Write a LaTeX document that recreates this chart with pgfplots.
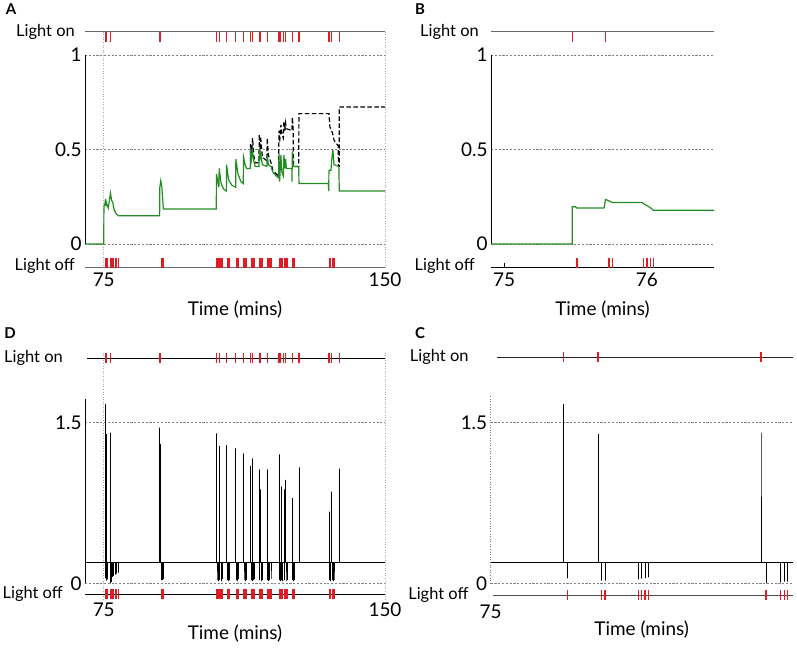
\documentclass[border=0pt]{standalone}
\usepackage{fontspec}
\setmainfont{Lato}
\usepackage{pgfplots}
\usepackage{pgfplotstable}
\pgfplotsset{compat=1.18}
\definecolor{grn}{RGB}{35,140,35}
\definecolor{rd}{RGB}{220,30,35}
\definecolor{rowgray}{RGB}{105,105,105}
\pgfplotsset{panel/.style={scale only axis, anchor=south west, clip=false,
  axis line style={draw=none}, major tick length=0pt, tick style={draw=none},
  /pgf/number format/assume math mode=true,
  tick label style={font=\fontsize{19}{22}\selectfont}},
  grd/.style={gray, line width=0.6pt, dash pattern=on 2.2pt off 1.6pt, forget plot},
  dtv/.style={gray!70, line width=0.6pt, dotted, forget plot},
  tk/.style={rd, line width=1.2pt, mark=none}}
\tikzset{lbl/.style={font=\fontsize{16.5}{19}\selectfont, anchor=east, inner sep=0pt},
  tl/.style={font=\fontsize{19}{22}\selectfont}}

% light-on events (minutes)
\pgfplotstableread{
t k
75.48 1
75.71 1
76.79 1
89.95 1
90.21 1
105.07 1
105.78 1
107.74 1
110.23 1
112.28 1
114.15 1
114.68 1
116.46 1
116.82 1
118.59 1
121.71 1
122.24 1
123.04 1
123.49 1
125.27 1
127.05 1
135.05 1
135.77 1
137.81 1
}\lon
% light-off events (minutes)
\pgfplotstableread{
t k
75.51 1
75.735 1
75.757 1
75.978 1
76.0 1
76.022 1
76.044 1
76.823 1
76.92 1
76.943 1
76.965 1
77.3 1
77.7 1
78.1 1
78.5 1
78.9 1
90.35 1
90.6 1
90.85 1
105.2 1
105.45 1
105.95 1
106.25 1
106.55 1
107.9 1
108.2 1
108.5 1
110.35 1
110.65 1
110.95 1
112.4 1
112.7 1
113.0 1
114.3 1
114.55 1
114.85 1
115.15 1
116.6 1
116.95 1
117.3 1
118.7 1
119.0 1
119.3 1
119.6 1
121.85 1
122.05 1
122.4 1
122.65 1
123.15 1
123.6 1
123.85 1
125.4 1
125.65 1
125.9 1
135.2 1
135.45 1
135.9 1
136.15 1
136.4 1
}\loff
% panel A green trace
\pgfplotstableread{
t y
70 0
75.0 0
75.05 0.20
75.3 0.21
75.48 0.24
75.6 0.20
75.71 0.22
76.2 0.19
76.79 0.27
77.1 0.23
77.4 0.22
77.8 0.18
78.3 0.16
78.9 0.15
89.9 0.15
89.95 0.30
90.21 0.335
90.5 0.30
90.9 0.185
105.0 0.185
105.07 0.37
105.7 0.30
105.78 0.40
106.3 0.32
107.0 0.29
107.7 0.28
107.74 0.42
108.3 0.34
109.2 0.31
110.2 0.30
110.23 0.45
110.8 0.37
111.6 0.33
112.2 0.32
112.28 0.46
112.7 0.42
113.1 0.40
114.1 0.40
114.15 0.50
114.4 0.45
114.68 0.49
115.0 0.44
115.4 0.41
116.4 0.41
116.46 0.50
116.7 0.46
116.82 0.48
117.3 0.42
118.5 0.41
118.59 0.47
118.9 0.42
119.6 0.41
120.1 0.38
121.0 0.36
121.65 0.35
121.71 0.48
121.9 0.33
122.24 0.47
122.5 0.38
122.9 0.36
123.04 0.47
123.3 0.40
123.49 0.45
123.7 0.40
125.2 0.40
125.22 0.33
125.27 0.49
125.5 0.41
127.0 0.41
127.05 0.32
134.9 0.32
135.0 0.28
135.05 0.39
135.6 0.39
135.77 0.44
136.1 0.50
136.4 0.42
137.7 0.41
137.81 0.28
150 0.28
}\green
% panel A black dashed trace
\pgfplotstableread{
t y
114.1 0.40
114.15 0.53
114.4 0.47
114.68 0.56
115.0 0.47
115.4 0.43
116.4 0.43
116.46 0.58
116.7 0.50
116.82 0.57
117.3 0.46
118.5 0.44
118.59 0.56
118.9 0.47
119.6 0.43
120.1 0.39
121.0 0.37
121.65 0.36
121.71 0.60
121.9 0.54
122.24 0.63
122.5 0.58
122.9 0.56
123.04 0.65
123.3 0.60
123.49 0.64
123.7 0.61
125.2 0.60
125.27 0.67
125.5 0.62
125.6 0.41
127.0 0.41
127.05 0.69
134.9 0.69
135.05 0.69
135.3 0.62
135.77 0.60
136.1 0.58
136.4 0.55
137.5 0.52
137.6 0.41
137.81 0.41
137.81 0.725
150 0.725
}\blackd
% panel B green trace
\pgfplotstableread{
t y
74.909 0
75.478 0
75.478 0.197
75.50 0.197
75.51 0.19
75.70 0.19
75.71 0.236
75.735 0.228
75.757 0.22
75.965 0.22
75.978 0.213
76.0 0.203
76.022 0.193
76.044 0.179
76.469 0.179
}\greenB
% panels D and C spike trace
\pgfplotstableread{
t y
70 0.196
75 0.196
75.48 0.196
75.48 1.674
75.48 0.196
75.51 0.196
75.51 0.047
75.51 0.196
75.71 0.196
75.71 1.394
75.71 0.196
75.735 0.196
75.735 0.025
75.735 0.196
75.757 0.196
75.757 0.025
75.757 0.196
75.978 0.196
75.978 0.037
75.978 0.196
76.0 0.196
76.0 0.045
76.0 0.196
76.022 0.196
76.022 0.05
76.022 0.196
76.044 0.196
76.044 0.055
76.044 0.196
76.79 0.196
76.79 1.407
76.79 0.196
76.823 0.196
76.823 0.0
76.823 0.196
76.92 0.196
76.92 0.01
76.92 0.196
76.943 0.196
76.943 0.015
76.943 0.196
76.965 0.196
76.965 0.015
76.965 0.196
77 0.196
77.3 0.196
77.3 0.06
77.3 0.196
77.7 0.196
77.7 0.07
77.7 0.196
78.1 0.196
78.1 0.08
78.1 0.196
78.5 0.196
78.5 0.09
78.5 0.196
78.9 0.196
78.9 0.10
78.9 0.196
89.95 0.196
89.95 1.453
89.95 0.196
90.21 0.196
90.21 1.30
90.21 0.196
90.35 0.196
90.35 0.03
90.35 0.196
90.6 0.196
90.6 0.03
90.6 0.196
90.85 0.196
90.85 0.04
90.85 0.196
105.07 0.196
105.07 1.40
105.07 0.196
105.2 0.196
105.2 0.03
105.2 0.196
105.45 0.196
105.45 0.02
105.45 0.196
105.78 0.196
105.78 1.282
105.78 0.196
105.95 0.196
105.95 0.03
105.95 0.196
106.25 0.196
106.25 0.02
106.25 0.196
106.55 0.196
106.55 0.04
106.55 0.196
107.74 0.196
107.74 1.29
107.74 0.196
107.9 0.196
107.9 0.03
107.9 0.196
108.2 0.196
108.2 0.02
108.2 0.196
108.5 0.196
108.5 0.03
108.5 0.196
110.23 0.196
110.23 1.26
110.23 0.196
110.35 0.196
110.35 0.03
110.35 0.196
110.65 0.196
110.65 0.02
110.65 0.196
110.95 0.196
110.95 0.04
110.95 0.196
112.28 0.196
112.28 1.214
112.28 0.196
112.4 0.196
112.4 0.03
112.4 0.196
112.7 0.196
112.7 0.02
112.7 0.196
113.0 0.196
113.0 0.03
113.0 0.196
114.15 0.196
114.15 1.096
114.15 0.196
114.3 0.196
114.3 0.03
114.3 0.196
114.55 0.196
114.55 0.02
114.55 0.196
114.68 0.196
114.68 1.167
114.68 0.196
114.85 0.196
114.85 0.03
114.85 0.196
115.15 0.196
115.15 0.04
115.15 0.196
116.46 0.196
116.46 1.064
116.46 0.196
116.6 0.196
116.6 0.03
116.6 0.196
116.82 0.196
116.82 0.878
116.82 0.196
116.95 0.196
116.95 0.02
116.95 0.196
117.3 0.196
117.3 0.03
117.3 0.196
118.59 0.196
118.59 1.064
118.59 0.196
118.7 0.196
118.7 0.03
118.7 0.196
119.0 0.196
119.0 0.02
119.0 0.196
119.3 0.196
119.3 0.03
119.3 0.196
119.6 0.196
119.6 0.04
119.6 0.196
121.71 0.196
121.71 1.204
121.71 0.196
121.85 0.196
121.85 0.03
121.85 0.196
122.05 0.196
122.05 0.02
122.05 0.196
122.24 0.196
122.24 0.903
122.24 0.196
122.4 0.196
122.4 0.03
122.4 0.196
122.65 0.196
122.65 0.02
122.65 0.196
123.04 0.196
123.04 0.878
123.04 0.196
123.15 0.196
123.15 0.03
123.15 0.196
123.49 0.196
123.49 0.965
123.49 0.196
123.6 0.196
123.6 0.02
123.6 0.196
123.85 0.196
123.85 0.03
123.85 0.196
125.27 0.196
125.27 0.794
125.27 0.196
125.4 0.196
125.4 0.03
125.4 0.196
125.65 0.196
125.65 0.02
125.65 0.196
125.9 0.196
125.9 0.03
125.9 0.196
127.05 0.196
127.05 1.083
127.05 0.196
135.05 0.196
135.05 0.669
135.05 0.196
135.2 0.196
135.2 0.03
135.2 0.196
135.45 0.196
135.45 0.02
135.45 0.196
135.77 0.196
135.77 0.856
135.77 0.196
135.9 0.196
135.9 0.03
135.9 0.196
136.15 0.196
136.15 0.02
136.15 0.196
136.4 0.196
136.4 0.03
136.4 0.196
137.81 0.196
137.81 1.071
137.81 0.196
150 0.196
}\spikes

\begin{document}
\begin{tikzpicture}
\path[use as bounding box] (0,0) rectangle (797bp,653bp);
\node[font=\bfseries\fontsize{15}{17}\selectfont] at (11bp,644bp) {A};
\node[font=\bfseries\fontsize{15}{17}\selectfont] at (420bp,644bp) {B};
\node[font=\bfseries\fontsize{15}{17}\selectfont] at (10bp,320bp) {D};
\node[font=\bfseries\fontsize{15}{17}\selectfont] at (420bp,320bp) {C};

% ---------------- Panel A ----------------
\begin{axis}[panel, at={(85bp,385bp)}, width=300bp, height=236bp,
  xmin=70, xmax=150, ymin=-0.127, ymax=1.122,
  xtick={75,150}, ytick={0,0.5,1}, xticklabel style={yshift=-1bp}]
\addplot[grd] coordinates {(70,0) (150,0)};
\addplot[grd] coordinates {(70,0.5) (150,0.5)};
\addplot[grd] coordinates {(70,1) (150,1)};
\addplot[dtv] coordinates {(75,-0.127) (75,1.122)};
\addplot[dtv] coordinates {(150,-0.127) (150,1.122)};
\addplot[rowgray, line width=1pt] coordinates {(70,1.122) (150,1.122)};
\addplot[rowgray, line width=1pt] coordinates {(70,-0.127) (150,-0.127)};
\addplot[black, line width=0.8pt] coordinates {(70,0) (70,1)};
\addplot[tk, quiver={u value=0, v value=0.053}] table[x=t, y expr=1.069] {\lon};
\addplot[tk, quiver={u value=0, v value=0.053}] table[x=t, y expr=-0.127] {\loff};
\addplot[black, line width=1.2pt, dash pattern=on 4.5pt off 2.5pt] table[x=t, y=y] {\blackd};
\addplot[grn, line width=1.2pt] table[x=t, y=y] {\green};
\node[lbl, xshift=-10bp] at (rel axis cs:0,1) {Light on};
\node[lbl, xshift=-10bp] at (rel axis cs:0,0.01) {Light off};
\node[tl, yshift=-42bp] at (rel axis cs:0.5,0) {Time (mins)};
\end{axis}

% ---------------- Panel B ----------------
\begin{axis}[panel, at={(491bp,385bp)}, width=223bp, height=236bp,
  xmin=74.909, xmax=76.469, ymin=-0.127, ymax=1.122,
  xtick={75,76}, ytick={0,0.5,1}, xticklabel style={yshift=-1bp}]
\addplot[grd] coordinates {(74.909,0) (76.469,0)};
\addplot[grd] coordinates {(74.909,0.5) (76.469,0.5)};
\addplot[grd] coordinates {(74.909,1) (76.469,1)};
\addplot[rowgray, line width=1pt] coordinates {(74.909,1.122) (76.469,1.122)};
\addplot[black, line width=1pt] coordinates {(74.909,-0.127) (76.469,-0.127)};
\addplot[black, line width=0.8pt] coordinates {(74.909,0) (74.909,1)};
\addplot[black, line width=0.6pt, quiver={u value=0, v value=0.025}] coordinates {(75,-0.127) (76,-0.127)};
\addplot[tk, quiver={u value=0, v value=0.053}, restrict x to domain=74.9:76.47] table[x=t, y expr=1.069] {\lon};
\addplot[tk, quiver={u value=0, v value=0.053}, restrict x to domain=74.9:76.47] table[x=t, y expr=-0.127] {\loff};
\addplot[grn, line width=1.2pt] table[x=t, y=y] {\greenB};
\node[lbl, xshift=-12bp] at (rel axis cs:0,1) {Light on};
\node[lbl, xshift=-16bp] at (rel axis cs:0,0.01) {Light off};
\node[tl, yshift=-42bp] at (rel axis cs:0.5,0) {Time (mins)};
\end{axis}

% ---------------- Panel D ----------------
\begin{axis}[panel, at={(85bp,58.7bp)}, width=300bp, height=236bp,
  xmin=70, xmax=150, ymin=-0.103, ymax=2.101,
  xtick={75,150}, ytick={0,1.5}, xticklabel style={yshift=-5bp}]
\addplot[grd] coordinates {(70,0) (150,0)};
\addplot[grd] coordinates {(70,1.5) (150,1.5)};
\addplot[dtv] coordinates {(75,-0.15) (75,2.15)};
\addplot[dtv] coordinates {(150,-0.15) (150,2.15)};
\addplot[black, line width=1pt] coordinates {(70.6,2.101) (150,2.101)};
\addplot[black, line width=1pt] coordinates {(70,-0.103) (150,-0.103)};
\addplot[black, line width=0.8pt] coordinates {(70,0) (70,1.718)};
\addplot[black, line width=0.8pt] table[x=t, y=y] {\spikes};
\addplot[tk, quiver={u value=0, v value=0.093}] table[x=t, y expr=2.0543] {\lon};
\addplot[tk, quiver={u value=0, v value=0.093}] table[x=t, y expr=-0.1497] {\loff};
\node[lbl, xshift=-22bp] at (rel axis cs:0,1) {Light on};
\node[lbl, xshift=-22bp] at (rel axis cs:0,0) {Light off};
\node[tl, yshift=-39bp] at (rel axis cs:0.5,0) {Time (mins)};
\end{axis}

% ---------------- Panel C ----------------
\begin{axis}[panel, at={(490.7bp,58bp)}, width=302bp, height=237.7bp,
  xmin=75, xmax=77, ymin=-0.109, ymax=2.111,
  xtick={75}, ytick={0,1.5}, xticklabel style={yshift=-6bp}]
\addplot[grd] coordinates {(75,0) (77,0)};
\addplot[grd] coordinates {(75,1.5) (77,1.5)};
\addplot[black!85, line width=1pt] coordinates {(75.04,2.111) (77,2.111)};
\addplot[black!70, line width=1pt] coordinates {(75.015,-0.109) (77,-0.109)};
\addplot[gray, line width=0.6pt, dotted] coordinates {(75,0) (75,1.75)};
\addplot[black, line width=0.8pt, restrict x to domain=75:77] table[x=t, y=y] {\spikes};
\addplot[tk, quiver={u value=0, v value=0.093}, restrict x to domain=75:77] table[x=t, y expr=2.0643] {\lon};
\addplot[tk, quiver={u value=0, v value=0.093}, restrict x to domain=75:77] table[x=t, y expr=-0.1557] {\loff};
\node[lbl, xshift=-22bp] at (rel axis cs:0,1) {Light on};
\node[lbl, xshift=-22bp] at (rel axis cs:0,0) {Light off};
\node[tl, yshift=-35bp] at (rel axis cs:0.5,0) {Time (mins)};
\end{axis}
\end{tikzpicture}
\end{document}
